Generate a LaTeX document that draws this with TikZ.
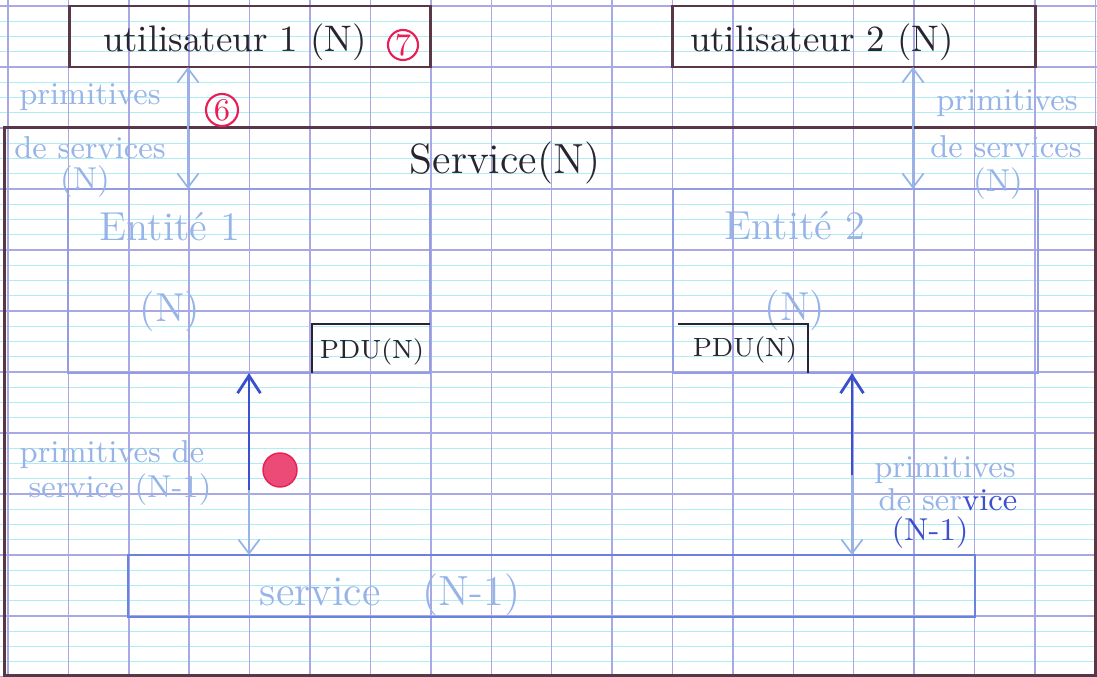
\documentclass[tikz,border=0pt]{standalone}
\usetikzlibrary{arrows.meta,positioning}
\definecolor{inkblk}{RGB}{40,36,48}
\definecolor{inkbrn}{RGB}{90,55,70}
\definecolor{inklt}{RGB}{150,180,232}
\definecolor{inkdk}{RGB}{60,80,205}
\definecolor{inkmid}{RGB}{105,130,222}
\definecolor{inkred}{RGB}{232,30,85}
\definecolor{gridmaj}{RGB}{168,168,228}
\definecolor{gridmin}{RGB}{175,236,244}

\begin{document}
\begin{tikzpicture}[x=0.01cm,y=-0.01cm,>={Straight Barb[length=4pt,width=6pt]},
 box/.style={draw=inkbrn,line width=0.8pt,inner sep=0pt,outer sep=0pt},
 ent/.style={draw=gridmaj!70!inkmid,line width=0.6pt,inner sep=0pt,outer sep=0pt},
 pdu/.style={inner sep=0pt,outer sep=0pt},
 lt/.style={inklt,line width=0.5pt},
 dk/.style={inkdk,line width=0.8pt},
 lbl/.style={inner sep=0pt,text=inklt,font=\fontsize{9}{10}\selectfont},
 num/.style={circle,draw=inkred,text=inkred,line width=0.6pt,inner sep=0pt,minimum size=0.3cm,font=\fontsize{9}{10}\selectfont}]
% squared paper
\fill[white] (0,0) rectangle (1097,677);
\useasboundingbox (0,0) rectangle (1097,677);
\foreach \j in {0,...,44} \draw[gridmin,line width=0.3pt] (0,{6+15.25*\j}) -- (1097,{6+15.25*\j});
\foreach \k in {0,...,11} \draw[gridmaj,line width=0.4pt] (0,{6+61*\k}) -- (1097,{6+61*\k});
\foreach \k in {0,...,18} \draw[gridmaj,line width=0.4pt] ({8+60.4*\k},0) -- ({8+60.4*\k},677);
% layer (N)
\node[box,minimum width=10.9cm,minimum height=5.47cm] (servN) at (550,401.5) {};
\node[font=\fontsize{12}{14}\selectfont,text=inkblk] (servNtxt) at (505,163) {Service(N)};
\node[box,minimum width=3.6cm,minimum height=0.61cm] (user1) at (250,36.5) {};
\node[box,minimum width=3.62cm,minimum height=0.61cm] (user2) at (854,36.5) {};
\node[font=\fontsize{10.5}{12}\selectfont,text=inkblk] (user1txt) at (235,42) {utilisateur 1 (N)};
\node[font=\fontsize{10.5}{12}\selectfont,text=inkblk] (user2txt) at (822,42) {utilisateur 2 (N)};
\node[num] (seven) at (403,45) {7};
\node[num,minimum size=0.32cm] (six) at (222,110) {6};
\node[ent,minimum width=3.62cm,minimum height=1.84cm] (ent1) at (249,281) {};
\node[ent,minimum width=3.65cm,minimum height=1.84cm] (ent2) at (855.5,281) {};
\node[lbl,font=\fontsize{11.5}{13}\selectfont,align=center] (ent1txt) at (170,272) {Entité 1\\[0.35cm](N)};
\node[lbl,font=\fontsize{11.5}{13}\selectfont,align=center] (ent2txt) at (795,271) {Entité 2\\[0.35cm](N)};
\node[pdu,minimum width=1.18cm,minimum height=0.49cm] (pdu1) at (371,348.5) {};
\node[pdu,minimum width=1.30cm,minimum height=0.49cm] (pdu2) at (743,348.5) {};
\node[font=\fontsize{7.5}{9}\selectfont,text=inkblk] (pdu1txt) at (372,352) {PDU(N)};
\node[font=\fontsize{7.5}{9}\selectfont,text=inkblk] (pdu2txt) at (745,350) {PDU(N)};
\draw[inkblk,line width=0.8pt] (pdu1.south west) -- (pdu1.north west) -- (pdu1.north east);
\draw[inkblk,line width=0.8pt] (pdu2.north west) -- (pdu2.north east) -- (pdu2.south east);
% layer (N-1)
\node[draw=inkmid,line width=0.7pt,inner sep=0pt,outer sep=0pt,minimum width=8.47cm,minimum height=0.62cm] (servN1) at (551.5,586) {};
\node[lbl,font=\fontsize{12}{14}\selectfont] (servN1txt) at (390,595) {service\quad(N-1)};
% service primitives
\coordinate (a1) at (188,0); \coordinate (a2) at (913,0);
\coordinate (m1) at (249,490); \coordinate (m2) at (852,475);
\draw[lt,<->] (user1.south -| a1) -- (ent1.north -| a1);
\draw[lt,<->] (user2.south -| a2) -- (ent2.north -| a2);
\draw[dk,<-,>={Straight Barb[length=5pt,width=6.5pt]}] (ent1.south -| m1) -- (m1);
\draw[lt,->] (m1) -- (servN1.north -| m1);
\draw[dk,<-,>={Straight Barb[length=5pt,width=6.5pt]}] (ent2.south -| m2) -- (m2);
\draw[lt,->] (m2) -- (servN1.north -| m2);
\node[lbl] (p1a) at (90,97) {primitives}; \node[lbl] (p1b) at (90,148) {de services}; \node[lbl] (p1c) at (85,182) {(N)};
\node[lbl] (p2a) at (1007,103) {primitives}; \node[lbl] (p2b) at (1006,147) {de services}; \node[lbl] (p2c) at (998,184) {(N)};
\node[lbl] (p3a) at (112,455) {primitives de}; \node[lbl] (p3b) at (120,490) {service (N-1)};
\node[lbl] (p4a) at (945,470) {primitives}; \node[lbl] (p4b) at (948,500) {de ser{\color{inkdk}vice}};
\node[lbl,text=inkdk] (p4c) at (930,533) {(N-1)};
\node[circle,draw=inkred,fill=inkred!80,minimum size=0.34cm,inner sep=0pt] (dot) at (280,470) {};
\end{tikzpicture}
\end{document}
